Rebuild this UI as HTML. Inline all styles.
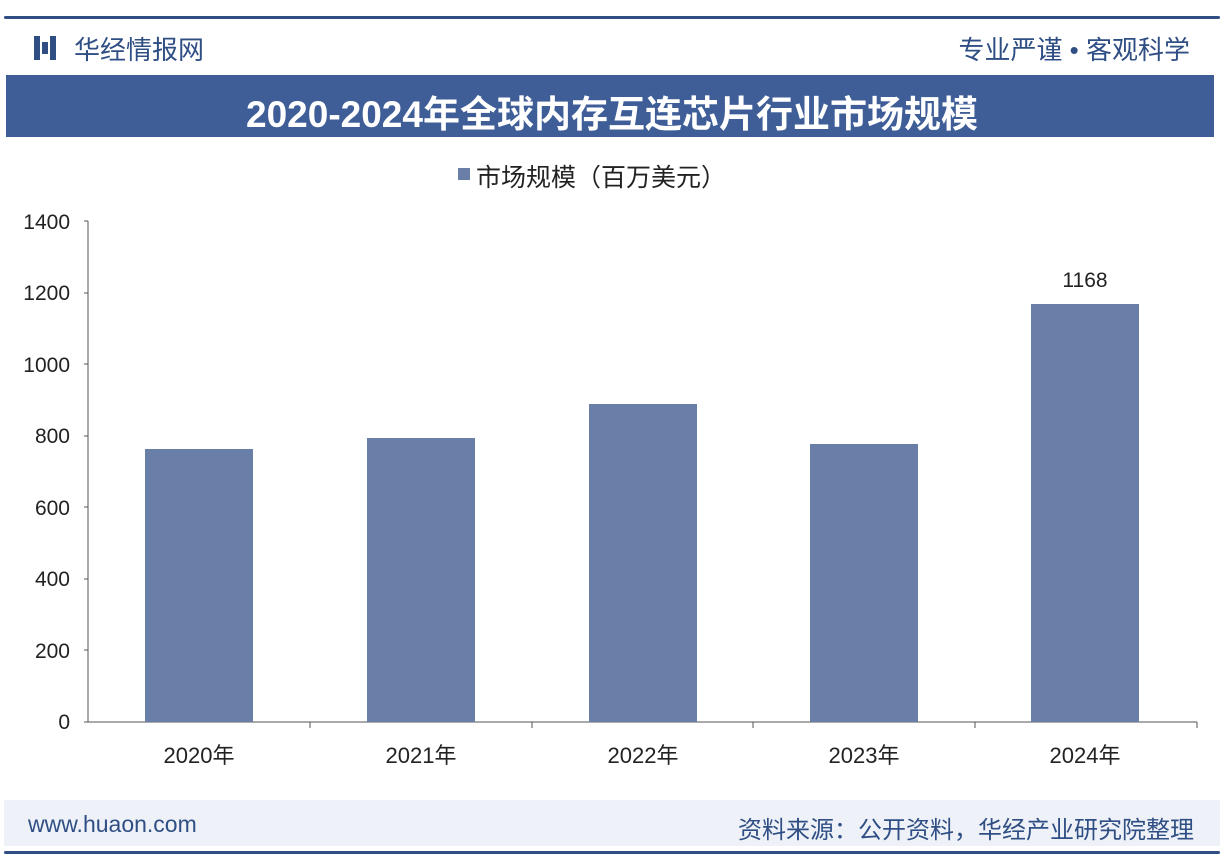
<!DOCTYPE html>
<html><head><meta charset="utf-8"><style>
body{margin:0;width:1224px;height:864px;background:#fff;overflow:hidden;font-family:"Liberation Sans","Noto Sans CJK SC",sans-serif;position:relative}
.a{position:absolute}
</style></head><body>
<div class="a" style="left:4px;top:16px;width:1216px;height:3px;background:#2f4e84;border-radius:2px"></div>
<div class="a" style="left:34px;top:36px;width:6px;height:24px;background:#2f4e84"></div>
<div class="a" style="left:42px;top:42px;width:6px;height:12px;background:#2f4e84"></div>
<div class="a" style="left:50px;top:36px;width:6px;height:24px;background:#2f4e84"></div>
<div class="a" style="left:74px;top:30px;font-size:26px;color:#2f4e84">华经情报网</div>
<div class="a" style="right:34px;top:30px;font-size:26px;color:#2f4e84">专业严谨 • 客观科学</div>
<div class="a" style="left:6px;top:75px;width:1208px;height:62px;background:#3f5e98"></div>
<div class="a" style="left:0;top:84px;width:1224px;text-align:center;font-family:'Liberation Sans','Noto Sans CJK SC',sans-serif;font-size:37px;font-weight:bold;color:#fff">2020-2024年全球内存互连芯片行业市场规模</div>
<div class="a" style="left:458px;top:168px;width:12px;height:12px;background:#6a7fa8"></div>
<div class="a" style="left:476px;top:158px;font-size:25px;color:#222">市场规模（百万美元）</div>
<svg class="a" style="left:0;top:0" width="1224" height="864">
<g font-size="21" fill="#222" text-anchor="end" font-family="Liberation Sans">
<text x="70" y="229">1400</text><text x="70" y="300">1200</text><text x="70" y="372">1000</text><text x="70" y="443">800</text><text x="70" y="515">600</text><text x="70" y="586">400</text><text x="70" y="658">200</text><text x="70" y="729">0</text>
</g>
<g stroke="#555" stroke-width="1">
<line x1="88" y1="221" x2="88" y2="722"/>
<line x1="88" y1="722" x2="1197" y2="722"/>
<line x1="84" y1="221" x2="88" y2="221"/><line x1="84" y1="293" x2="88" y2="293"/><line x1="84" y1="364" x2="88" y2="364"/><line x1="84" y1="436" x2="88" y2="436"/><line x1="84" y1="507" x2="88" y2="507"/><line x1="84" y1="579" x2="88" y2="579"/><line x1="84" y1="650" x2="88" y2="650"/><line x1="84" y1="722" x2="88" y2="722"/>
<line x1="310" y1="722" x2="310" y2="728"/><line x1="532" y1="722" x2="532" y2="728"/><line x1="753" y1="722" x2="753" y2="728"/><line x1="975" y1="722" x2="975" y2="728"/><line x1="1197" y1="722" x2="1197" y2="728"/>
</g>
<g fill="#6a7fa8">
<rect x="145" y="449" width="108" height="273"/>
<rect x="367" y="438" width="108" height="284"/>
<rect x="589" y="404" width="108" height="318"/>
<rect x="810" y="444" width="108" height="278"/>
<rect x="1031" y="304" width="108" height="418"/>
</g>
<text x="1085" y="287" font-size="21" fill="#222" text-anchor="middle" font-family="Liberation Sans">1168</text>
<g font-size="22" fill="#222" text-anchor="middle" font-family="Liberation Sans,Noto Sans CJK SC,sans-serif">
<text x="199" y="763">2020年</text><text x="421" y="763">2021年</text><text x="643" y="763">2022年</text><text x="864" y="763">2023年</text><text x="1085" y="763">2024年</text>
</g>
</svg>
<div class="a" style="left:4px;top:800px;width:1216px;height:46px;background:#eef2f8"></div>
<div class="a" style="left:28px;top:811px;font-size:23px;color:#2f4e84">www.huaon.com</div>
<div class="a" style="right:30px;top:810px;font-size:24px;color:#2f4e84">资料来源：公开资料，华经产业研究院整理</div>
<div class="a" style="left:4px;top:851px;width:1216px;height:3px;background:#2f4e84;border-radius:2px"></div>
</body></html>
